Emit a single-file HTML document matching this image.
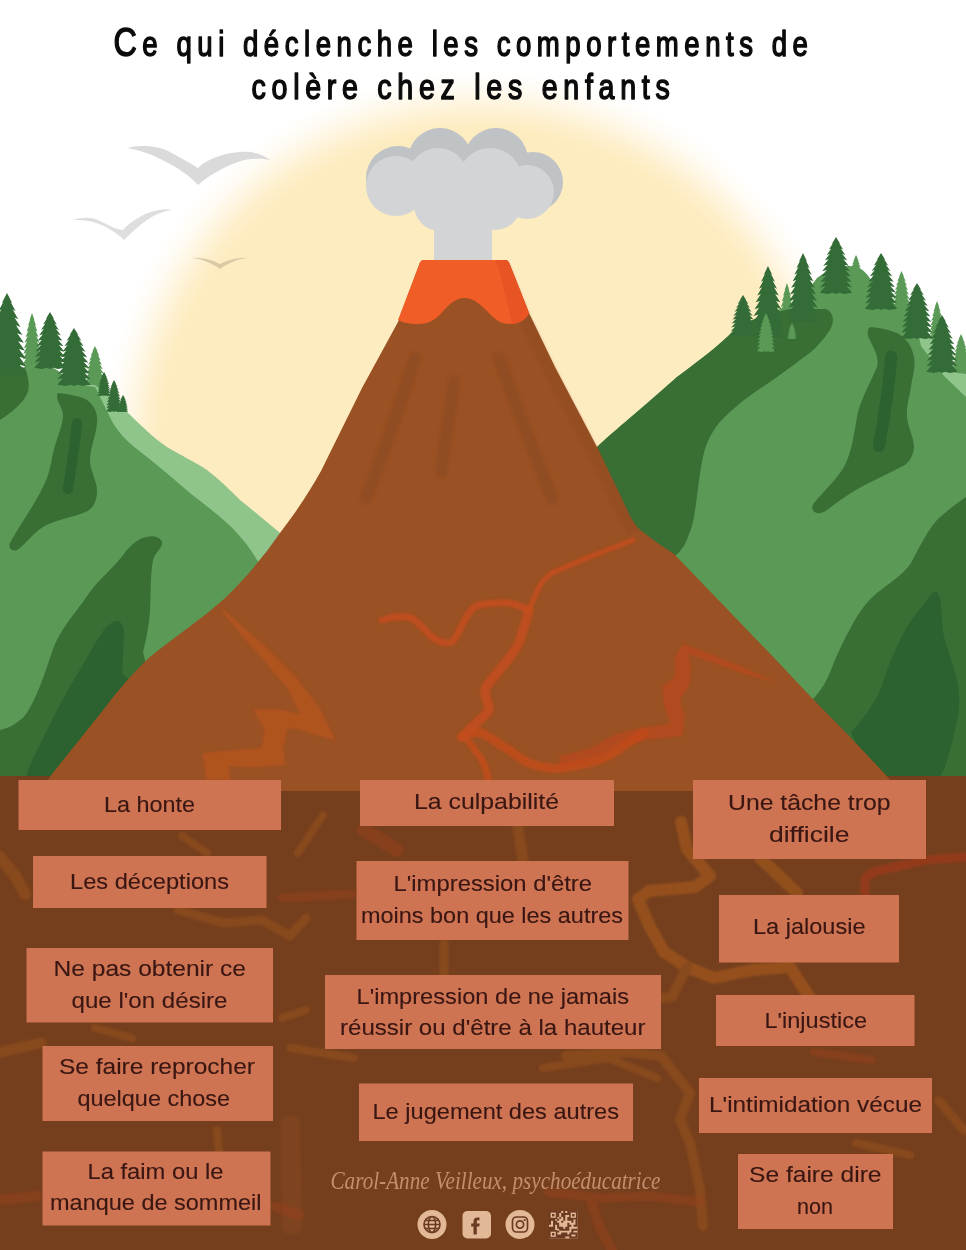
<!DOCTYPE html>
<html lang="fr"><head><meta charset="utf-8"><title>Ce qui déclenche les comportements de colère chez les enfants</title>
<style>
html,body{margin:0;padding:0;background:#fff;}
body{width:966px;height:1250px;position:relative;overflow:hidden;font-family:"Liberation Sans",sans-serif;}
svg{position:absolute;left:0;top:0;display:block;}
</style></head><body>
<svg width="966" height="1250" viewBox="0 0 966 1250">
<defs>
<radialGradient id="sun" cx="481" cy="450" r="380" gradientUnits="userSpaceOnUse"><stop offset="0" stop-color="#FEECC1"/><stop offset="0.845" stop-color="#FEECC1"/><stop offset="0.88" stop-color="#FEECC1" stop-opacity="0.8"/><stop offset="0.915" stop-color="#FEECC1" stop-opacity="0.5"/><stop offset="0.955" stop-color="#FEECC1" stop-opacity="0.2"/><stop offset="1" stop-color="#FEECC1" stop-opacity="0"/></radialGradient>
<path id="pine" d="M20.0 0.0 L25.5 12.5 L23.6 10.5 L28.8 22.0 L25.8 20.0 L31.5 31.5 L27.6 29.5 L33.8 41.0 L29.1 39.0 L35.7 50.5 L30.4 48.5 L37.2 60.0 L31.4 58.0 L38.4 69.5 L32.2 67.5 L39.3 79.0 L32.7 77.0 L39.8 88.5 L33.1 86.5 L40.0 98.0 L30.0 100.0 L24.0 98.0 L20.0 100.0 L16.0 98.0 L10.0 100.0 L0.0 98.0 L6.9 86.5 L0.2 88.5 L7.3 77.0 L0.7 79.0 L7.8 67.5 L1.6 69.5 L8.6 58.0 L2.8 60.0 L9.6 48.5 L4.3 50.5 L10.9 39.0 L6.2 41.0 L12.4 29.5 L8.5 31.5 L14.2 20.0 L11.2 22.0 L16.4 10.5 L14.5 12.5Z"/>
<filter id="b1" x="-10%" y="-10%" width="120%" height="120%"><feGaussianBlur stdDeviation="0.9"/></filter>
<filter id="b2" x="-20%" y="-10%" width="140%" height="120%"><feGaussianBlur stdDeviation="1.6"/></filter>
</defs>
<rect width="966" height="1250" fill="#fff"/>
<circle cx="481" cy="450" r="380" fill="url(#sun)"/>
<path d="M127 148 C142 144 160 146 172 153 C184 160 192 164 198 168 C206 160 222 153 240 152 C254 151 264 155 270 160 C260 158 248 158 238 162 C222 168 208 176 198 185 C190 176 178 168 166 162 C154 155 140 150 127 148Z" fill="#DADADA"/>
<path d="M73 220 C82 217 92 217 100 221 C110 226 118 230 123 230 C130 222 142 214 155 211 C162 209 168 209 172 210 C164 211 156 214 150 218 C138 226 130 234 124 240 C116 232 106 226 96 223 C88 220 80 220 73 220Z" fill="#DEDEDE"/>
<path d="M192 258 C200 257 210 259 220 264 C230 259 240 257 248 258 C238 259 228 263 220 269 C212 263 202 259 192 258Z" fill="#DBC9A6"/>
<use href="#pine" fill="#5A9A56" transform="translate(22.5 313.0) scale(0.476 0.590)"/>
<use href="#pine" fill="#5A9A56" transform="translate(84.9 346.0) scale(0.504 0.460)"/>
<path d="M0 372 L27 370 C35 362 48 362 62 374 L70 383 L95 385 C105 392 115 402 127 412 C140 424 152 437 167 447 C182 456 195 462 207 470 C220 480 230 490 240 500 C255 512 268 523 280 533 L300 560 L300 800 L0 800Z" fill="#8FC58B"/>
<path d="M0 372 L27 370 C35 362 48 362 62 374 L70 384 L95 387 C98 392 105 408 113 423 C122 438 134 447 147 457 C162 469 176 481 190 493 C204 504 216 513 227 523 C240 535 250 548 257 560 L300 600 L300 800 L0 800Z" fill="#5B9956"/>
<path d="M0 360 L25 368 C29 378 30 388 27 394 C22 404 12 412 0 420Z" fill="#396E34"/>
<path d="M58 393 C68 394 80 396 87 400 C95 406 98 414 97 423 C96 436 90 448 90 460 C90 472 98 482 97 493 C96 504 92 510 83 513 C70 518 55 520 43 527 C32 534 24 546 17 550 C12 552 8 548 10 543 C20 524 34 506 43 487 C49 476 51 464 53 453 C56 440 62 428 63 417 C64 408 54 400 58 393Z" fill="#396E34"/>
<path d="M77 423 C75 445 71 468 68 489" stroke="#2C6130" stroke-width="10" stroke-linecap="round" fill="none"/>
<path d="M147 537 C153 535 160 537 162 542 C163 548 155 552 153 560 C150 576 151 594 150 610 C149 626 146 640 143 652 L150 680 L90 790 L0 790 L0 730 C10 728 20 722 26 714 C36 700 44 676 52 652 C58 634 68 622 77 610 C86 598 92 588 100 580 C110 570 120 560 127 550 C134 542 140 538 147 537Z" fill="#396E34"/>
<path d="M116 621 C121 620 125 628 124 636 C123 648 123 660 122 673 L140 690 L80 790 L26 775 C32 760 40 745 47 730 C56 712 66 692 78 673 C88 657 96 640 104 630 C108 625 112 622 116 621Z" fill="#2C6130"/>
<use href="#pine" fill="#346C37" transform="translate(-12.6 293.0) scale(0.980 0.830)"/>
<use href="#pine" fill="#346C37" transform="translate(34.3 312.0) scale(0.784 0.570)"/>
<use href="#pine" fill="#346C37" transform="translate(57.2 328.0) scale(0.840 0.580)"/>
<use href="#pine" fill="#346C37" transform="translate(97.3 372.0) scale(0.336 0.240)"/>
<use href="#pine" fill="#346C37" transform="translate(106.2 380.0) scale(0.392 0.320)"/>
<use href="#pine" fill="#346C37" transform="translate(118.0 395.0) scale(0.252 0.170)"/>
<use href="#pine" fill="#5A9A56" transform="translate(778.0 283.0) scale(0.448 0.590)"/>
<use href="#pine" fill="#5A9A56" transform="translate(849.3 255.0) scale(0.336 0.300)"/>
<use href="#pine" fill="#5A9A56" transform="translate(892.0 271.0) scale(0.476 0.470)"/>
<use href="#pine" fill="#5A9A56" transform="translate(928.6 301.0) scale(0.420 0.490)"/>
<use href="#pine" fill="#5A9A56" transform="translate(951.5 334.0) scale(0.476 0.440)"/>
<path d="M560 800 L597 447 C615 430 640 410 677 377 C700 360 720 345 734 330 L800 300 C808 290 814 282 817 278 C830 268 845 264 857 267 C864 270 868 275 871 280 C886 294 900 308 908 321 C914 331 918 337 921 340 C938 358 952 372 966 387 L966 800Z" fill="#5B9956"/>
<path d="M919 336 L934 340 L944 371 L966 374 L966 397 L944 376 L921 346Z" fill="#8FC58B"/>
<path d="M560 800 L597 447 C615 430 640 410 677 377 C700 360 720 345 734 330 L760 316 L790 309 L826 309 C836 314 834 326 827 334 C820 344 812 352 804 357 C796 364 786 370 777 377 C766 385 754 392 744 400 C732 410 720 420 714 430 C706 442 704 452 702 462 C699 476 698 490 696 504 C694 516 693 526 689 534 C686 544 682 550 675 556 L640 600Z" fill="#396E34"/>
<path d="M871 327 C880 328 890 330 897 333 C906 338 912 346 914 357 C916 368 912 378 911 387 C909 398 906 408 907 417 C908 428 914 438 914 447 C913 458 908 464 901 467 C888 474 874 480 861 487 C850 493 840 500 831 507 C826 511 822 514 817 513 C812 512 811 507 814 503 C824 491 836 480 844 467 C852 452 854 434 857 417 C860 400 870 384 877 367 C880 356 872 346 868 336 C867 331 868 328 871 327Z" fill="#396E34"/>
<path d="M891 357 C889 388 884 418 879 446" stroke="#2C6130" stroke-width="12" stroke-linecap="round" fill="none"/>
<path d="M966 497 C955 505 945 512 937 520 C928 530 920 546 911 563 C902 576 888 584 877 593 C866 602 858 614 851 627 C843 642 836 656 831 670 C827 680 822 690 812 700 L900 790 L966 790Z" fill="#396E34"/>
<path d="M937 592 C940 596 941 601 941 607 C942 618 942 628 944 637 C948 652 954 666 957 680 C960 694 960 708 957 720 C954 738 949 755 944 770 L930 790 L880 790 L851 733 C860 722 870 710 877 697 C883 685 886 672 891 660 C896 648 901 637 907 627 C913 617 921 608 927 600 C930 595 934 590 937 592Z" fill="#2C6130"/>
<use href="#pine" fill="#346C37" transform="translate(730.7 295.0) scale(0.616 0.410)"/>
<use href="#pine" fill="#346C37" transform="translate(752.3 266.0) scale(0.784 0.720)"/>
<use href="#pine" fill="#346C37" transform="translate(787.9 253.0) scale(0.756 0.690)"/>
<use href="#pine" fill="#346C37" transform="translate(819.8 237.0) scale(0.812 0.570)"/>
<use href="#pine" fill="#346C37" transform="translate(864.8 253.0) scale(0.812 0.570)"/>
<use href="#pine" fill="#346C37" transform="translate(901.3 283.0) scale(0.784 0.560)"/>
<use href="#pine" fill="#346C37" transform="translate(926.3 315.0) scale(0.784 0.580)"/>
<use href="#pine" fill="#5A9A56" transform="translate(757.0 313.0) scale(0.448 0.390)"/>
<use href="#pine" fill="#5A9A56" transform="translate(787.5 323.0) scale(0.224 0.160)"/>
<rect x="0" y="776" width="966" height="474" fill="#753F1E"/>
<g fill="none" stroke-linecap="round" stroke-linejoin="round" filter="url(#b1)">
<g stroke="#A35A20" opacity="0.42">
<path d="M681 822 L687 849 L710 876 L695 887 L649 891 L638 899 L649 925 L664 952 L687 967 L714 978 L752 970 L790 967 L797 978 L812 1001" stroke-width="12" stroke="#BF6820"/>
<path d="M687 967 L672 997 L640 1000" stroke-width="10"/>
<path d="M760 858 L775 872 L797 893" stroke-width="12" stroke="#B8641F"/>
<path d="M566 1056 L628 1052 L661 1056 L690 1093 L680 1120 L690 1143 L700 1190 L703 1226" stroke-width="10"/>
<path d="M939 1101 L964 1130" stroke-width="9"/>
<path d="M856 1143 L910 1155" stroke-width="8"/>
<path d="M518 828 L523 860" stroke-width="11"/>
<path d="M444 944 L444 974" stroke-width="9"/>
<path d="M543 1068 L608 1058 L657 1078" stroke-width="8"/>
<path d="M0 857 L16 877 L25 894" stroke-width="12"/>
<path d="M0 1052 L41 1043" stroke-width="11"/>
<path d="M95 1028 L132 1038" stroke-width="8"/>
<path d="M178 910 L224 923 L262 920 L290 936 L306 918" stroke-width="9"/>
<path d="M182 836 L207 853" stroke-width="8"/>
<path d="M323 815 L298 853" stroke-width="8"/>
<path d="M282 1018 L306 1010" stroke-width="8"/>
<path d="M290 1048 L354 1058" stroke-width="8"/>
<path d="M217 1130 L219 1151" stroke-width="8"/>
<path d="M290 1125 L292 1225" stroke-width="20" opacity="0.5"/>
</g>
<g stroke="#9C3F1D" opacity="0.45">
<path d="M865 892 L865 879 L873 872 L926 860 L966 857" stroke-width="9" stroke="#B8381C"/>
<path d="M814 1052 L872 1060" stroke-width="8"/>
<path d="M282 898 L352 894" stroke-width="9"/>
<path d="M0 1200 L37 1196" stroke-width="10"/>
<path d="M364 830 L397 850" stroke-width="14"/>
<path d="M275 1207 L300 1215" stroke-width="10"/>
<path d="M548 1192 L600 1198 L650 1196 L700 1202" stroke-width="9"/>
<path d="M592 1204 L600 1228 L612 1250" stroke-width="10"/>
</g>
</g>
<g fill="#BFC3C5">
<circle cx="398" cy="178" r="32"/><circle cx="440" cy="160" r="32"/><circle cx="496" cy="160" r="32"/><circle cx="533" cy="182" r="30"/>
</g>
<g fill="#D3D4D5">
<circle cx="396" cy="186" r="30"/><circle cx="438" cy="178" r="30"/><circle cx="490" cy="180" r="32"/><circle cx="527" cy="192" r="27"/><circle cx="440" cy="205" r="26"/><circle cx="495" cy="204" r="26"/>
<rect x="434" y="200" width="58" height="64"/>
</g>
<path d="M424 260 L505 260 C508 260 509 262 510 265 L529 313 L555 367 L597 447 L622 499 C628 512 632 522 639 529 C650 538 662 546 674 554 L729 611 L778 662 L811 697 L851 738 L884 773 L900 791 L40 791 L52 774 L104 709 C118 690 134 672 150 657 C176 636 200 620 223 600 C246 578 264 556 280 533 C296 512 308 494 321 471 L362 388 L398 322 L419 265 C420 262 421 260 424 260Z" fill="#9A5123"/>
<g stroke="#8B4A22" stroke-width="12" stroke-linecap="round" fill="none" opacity="0.6" filter="url(#b2)">
<path d="M415 358 C400 405 384 452 366 498"/>
<path d="M454 381 C450 412 445 443 441 472"/>
<path d="M499 358 C516 405 534 452 552 498"/>
</g>
<path d="M510 265 L529 313 L555 367 L597 447 L622 499 C628 512 632 522 639 529 L628 534 C620 520 614 508 608 496 L584 448 L542 368 L516 314 L500 268Z" fill="#8B4A22" opacity="0.35" filter="url(#b1)"/>
<path d="M424 260 L505 260 C508 260 509 262 510 265 L529 313 C526 320 518 324 510 324 C498 324 492 316 486 310 C478 302 472 298 464 298 C456 298 450 304 444 310 C438 318 430 324 418 324 C408 324 402 322 398 320 L419 265 C420 262 421 260 424 260Z" fill="#F15D27"/>
<path d="M496 260 L505 260 C508 260 509 262 510 265 L529 313 C526 320 518 324 512 324 C508 305 502 280 496 260Z" fill="#E95424"/>
<g stroke="#CC4E1C" stroke-width="7" stroke-linecap="round" stroke-linejoin="round" fill="none" filter="url(#b1)" opacity="0.85">
<path d="M382 620 C394 616 404 616 412 618 C420 624 426 632 432 637 C438 642 446 644 452 642 C458 636 460 628 465 620 C469 612 473 606 479 605 C490 603 500 602 509 603 C516 604 524 608 529 610" opacity="0.85"/>
<path d="M529 610 C532 602 536 594 539 587 C543 580 548 576 552 573 C565 567 578 562 589 557 C605 551 620 545 633 540" stroke-width="5" opacity="0.9"/>
<path d="M529 610 C526 622 522 633 519 643 C514 652 508 660 502 667 C496 675 488 682 485 690 C484 698 490 704 489 710 C484 718 474 724 469 730 C466 733 464 735 462 737" stroke-width="9.5" opacity="0.85"/>
<path d="M462 737 C468 733 476 732 482 733 C492 738 500 745 509 750 C516 755 522 760 529 763 C540 767 552 769 562 768 C575 766 588 764 599 760 C608 756 616 752 622 747 C630 742 638 737 644 733" stroke-width="9" opacity="0.8"/>
<path d="M466 738 C472 746 478 754 482 760 C486 768 488 776 489 786" opacity="0.8"/>
</g>
<path d="M222.2 609.8 L262.0 644.6 L296.8 679.4 L319.1 709.2 L334.0 739.0 L299.3 729.1 L286.8 726.6 L281.9 748.9 L284.3 763.9 L254.5 766.3 L227.2 765.1 L229.7 778.8 L207.3 778.8 L203.6 753.9 L229.7 751.4 L262.0 748.9 L265.7 729.1 L254.5 710.4 L279.4 710.4 L301.7 715.4 L289.3 689.3 L264.5 659.5 L242.1 634.7Z" fill="#C0561E" opacity="0.6" filter="url(#b1)" stroke="#C4561E" stroke-width="1.5" stroke-linejoin="round"/>
<path d="M560.0 766.5 L589.8 760.2 L619.6 745.3 L647.0 739.1 L681.7 735.4 L684.2 716.8 L679.3 699.4 L689.2 684.5 L690.4 664.6 L686.7 653.4 L714.0 662.1 L743.9 673.3 L771.2 680.7 L743.9 668.3 L714.0 655.9 L683.0 644.7 L675.5 657.1 L675.5 677.0 L663.1 687.0 L664.3 704.3 L670.6 724.2 L644.5 728.0 L617.1 734.2 L589.8 749.1 L560.0 756.5Z" fill="#C2471F" opacity="0.6" filter="url(#b1)" stroke="#C5481F" stroke-width="1" stroke-linejoin="round"/>
<rect x="18.5" y="780.0" width="262.5" height="50.0" fill="#CE7453"/>
<rect x="33.0" y="856.0" width="233.5" height="52.0" fill="#CE7453"/>
<rect x="26.5" y="948.0" width="246.5" height="74.5" fill="#CE7453"/>
<rect x="42.5" y="1046.0" width="230.5" height="75.0" fill="#CE7453"/>
<rect x="42.5" y="1151.5" width="228.0" height="74.0" fill="#CE7453"/>
<rect x="360.0" y="780.0" width="254.0" height="46.0" fill="#CE7453"/>
<rect x="356.5" y="861.0" width="272.0" height="79.0" fill="#CE7453"/>
<rect x="325.0" y="975.0" width="336.0" height="74.0" fill="#CE7453"/>
<rect x="359.0" y="1083.5" width="274.0" height="57.5" fill="#CE7453"/>
<rect x="693.0" y="780.0" width="233.0" height="79.0" fill="#CE7453"/>
<rect x="719.0" y="895.0" width="180.0" height="67.5" fill="#CE7453"/>
<rect x="716.0" y="995.0" width="198.5" height="51.0" fill="#CE7453"/>
<rect x="699.0" y="1078.0" width="233.0" height="55.0" fill="#CE7453"/>
<rect x="738.0" y="1154.0" width="155.0" height="75.0" fill="#CE7453"/>
<g font-family="Liberation Sans, sans-serif" font-size="22.3" fill="#3A1612" stroke="#3A1612" stroke-width="0.12">
<text x="104.0" y="811.5" textLength="91.0" lengthAdjust="spacingAndGlyphs">La honte</text>
<text x="70.0" y="889.0" textLength="159.0" lengthAdjust="spacingAndGlyphs">Les déceptions</text>
<text x="53.5" y="976.0" textLength="192.5" lengthAdjust="spacingAndGlyphs">Ne pas obtenir ce</text>
<text x="71.5" y="1007.5" textLength="156.0" lengthAdjust="spacingAndGlyphs">que l&#39;on désire</text>
<text x="59.0" y="1074.0" textLength="196.0" lengthAdjust="spacingAndGlyphs">Se faire reprocher</text>
<text x="77.5" y="1106.0" textLength="152.5" lengthAdjust="spacingAndGlyphs">quelque chose</text>
<text x="87.5" y="1179.0" textLength="136.0" lengthAdjust="spacingAndGlyphs">La faim ou le</text>
<text x="50.0" y="1210.0" textLength="211.5" lengthAdjust="spacingAndGlyphs">manque de sommeil</text>
<text x="414.0" y="809.0" textLength="145.0" lengthAdjust="spacingAndGlyphs">La culpabilité</text>
<text x="393.5" y="891.0" textLength="198.5" lengthAdjust="spacingAndGlyphs">L&#39;impression d&#39;être</text>
<text x="361.0" y="922.5" textLength="262.0" lengthAdjust="spacingAndGlyphs">moins bon que les autres</text>
<text x="356.5" y="1003.5" textLength="272.5" lengthAdjust="spacingAndGlyphs">L&#39;impression de ne jamais</text>
<text x="340.0" y="1035.0" textLength="305.5" lengthAdjust="spacingAndGlyphs">réussir ou d&#39;être à la hauteur</text>
<text x="372.5" y="1119.0" textLength="246.5" lengthAdjust="spacingAndGlyphs">Le jugement des autres</text>
<text x="728.0" y="810.0" textLength="162.5" lengthAdjust="spacingAndGlyphs">Une tâche trop</text>
<text x="769.0" y="841.5" textLength="80.5" lengthAdjust="spacingAndGlyphs">difficile</text>
<text x="753.0" y="933.5" textLength="112.5" lengthAdjust="spacingAndGlyphs">La jalousie</text>
<text x="764.5" y="1027.5" textLength="102.5" lengthAdjust="spacingAndGlyphs">L&#39;injustice</text>
<text x="709.0" y="1111.5" textLength="213.0" lengthAdjust="spacingAndGlyphs">L&#39;intimidation vécue</text>
<text x="749.0" y="1181.5" textLength="132.5" lengthAdjust="spacingAndGlyphs">Se faire dire</text>
<text x="797.0" y="1213.5" textLength="36.0" lengthAdjust="spacingAndGlyphs">non</text>
</g>
<g font-family="Liberation Sans, sans-serif" font-size="35" fill="#0b0b0b" stroke="#0b0b0b" stroke-width="1.5" stroke-linejoin="round">
<text x="113.5" y="55.5" textLength="700" lengthAdjust="spacingAndGlyphs" letter-spacing="7"><tspan font-size="41">C</tspan>e qui déclenche les comportements de</text>
<text x="251.5" y="99" textLength="424" lengthAdjust="spacingAndGlyphs" letter-spacing="7">colère chez les enfants</text>
</g>
<text x="330.5" y="1189" textLength="330" lengthAdjust="spacingAndGlyphs" font-family="Liberation Serif, serif" font-style="italic" font-size="25" fill="#C48E6C">Carol-Anne Veilleux, psychoéducatrice</text>
<circle cx="432" cy="1224.5" r="14.5" fill="#E2B896"/>
<g stroke="#6A3A22" stroke-width="1.6" fill="none"><circle cx="432" cy="1224.5" r="8"/><ellipse cx="432" cy="1224.5" rx="3.6" ry="8"/><path d="M424 1224.5H440M425.5 1220.5H438.5M425.5 1228.5H438.5"/></g>
<rect x="462.5" y="1211" width="28.5" height="27.5" rx="5" fill="#E2B896"/>
<path d="M479.5 1217.5h-2.2c-2.4 0-3.8 1.5-3.8 3.9v2.1h-2.3v3.1h2.3v7.9h3.3v-7.9h2.5l.4-3.1h-2.9v-1.8c0-.9.3-1.4 1.4-1.4h1.3z" fill="#6A3A22"/>
<circle cx="520" cy="1224.5" r="14.5" fill="#E2B896"/>
<g stroke="#6A3A22" stroke-width="1.7" fill="none"><rect x="512.5" y="1217" width="15" height="15" rx="4"/><circle cx="520" cy="1224.5" r="3.6"/></g><circle cx="524.6" cy="1220" r="1.1" fill="#6A3A22"/>
<rect x="549" y="1211" width="28.5" height="27.5" fill="#E2B896"/>
<path d="M557.14 1211.00h2.04v1.96h-2.04zM559.18 1211.00h2.04v1.96h-2.04zM563.25 1211.00h2.04v1.96h-2.04zM567.32 1211.00h2.04v1.96h-2.04zM557.14 1212.96h2.04v1.96h-2.04zM561.21 1212.96h2.04v1.96h-2.04zM563.25 1212.96h2.04v1.96h-2.04zM565.29 1212.96h2.04v1.96h-2.04zM567.32 1212.96h2.04v1.96h-2.04zM557.14 1214.93h2.04v1.96h-2.04zM561.21 1214.93h2.04v1.96h-2.04zM563.25 1214.93h2.04v1.96h-2.04zM559.18 1216.89h2.04v1.96h-2.04zM563.25 1216.89h2.04v1.96h-2.04zM567.32 1216.89h2.04v1.96h-2.04zM549.00 1218.86h2.04v1.96h-2.04zM551.04 1218.86h2.04v1.96h-2.04zM553.07 1218.86h2.04v1.96h-2.04zM557.14 1218.86h2.04v1.96h-2.04zM563.25 1218.86h2.04v1.96h-2.04zM567.32 1218.86h2.04v1.96h-2.04zM569.36 1218.86h2.04v1.96h-2.04zM571.39 1218.86h2.04v1.96h-2.04zM575.46 1218.86h2.04v1.96h-2.04zM549.00 1220.82h2.04v1.96h-2.04zM553.07 1220.82h2.04v1.96h-2.04zM555.11 1220.82h2.04v1.96h-2.04zM561.21 1220.82h2.04v1.96h-2.04zM571.39 1220.82h2.04v1.96h-2.04zM575.46 1220.82h2.04v1.96h-2.04zM549.00 1222.79h2.04v1.96h-2.04zM553.07 1222.79h2.04v1.96h-2.04zM555.11 1222.79h2.04v1.96h-2.04zM557.14 1222.79h2.04v1.96h-2.04zM567.32 1222.79h2.04v1.96h-2.04zM575.46 1222.79h2.04v1.96h-2.04zM553.07 1224.75h2.04v1.96h-2.04zM557.14 1224.75h2.04v1.96h-2.04zM567.32 1224.75h2.04v1.96h-2.04zM569.36 1224.75h2.04v1.96h-2.04zM573.43 1224.75h2.04v1.96h-2.04zM575.46 1224.75h2.04v1.96h-2.04zM549.00 1226.71h2.04v1.96h-2.04zM551.04 1226.71h2.04v1.96h-2.04zM553.07 1226.71h2.04v1.96h-2.04zM557.14 1226.71h2.04v1.96h-2.04zM559.18 1226.71h2.04v1.96h-2.04zM561.21 1226.71h2.04v1.96h-2.04zM565.29 1226.71h2.04v1.96h-2.04zM567.32 1226.71h2.04v1.96h-2.04zM549.00 1228.68h2.04v1.96h-2.04zM551.04 1228.68h2.04v1.96h-2.04zM553.07 1228.68h2.04v1.96h-2.04zM559.18 1228.68h2.04v1.96h-2.04zM561.21 1228.68h2.04v1.96h-2.04zM563.25 1228.68h2.04v1.96h-2.04zM565.29 1228.68h2.04v1.96h-2.04zM567.32 1228.68h2.04v1.96h-2.04zM571.39 1228.68h2.04v1.96h-2.04zM573.43 1228.68h2.04v1.96h-2.04zM575.46 1228.68h2.04v1.96h-2.04zM557.14 1230.64h2.04v1.96h-2.04zM571.39 1230.64h2.04v1.96h-2.04zM561.21 1232.61h2.04v1.96h-2.04zM563.25 1232.61h2.04v1.96h-2.04zM565.29 1232.61h2.04v1.96h-2.04zM569.36 1232.61h2.04v1.96h-2.04zM571.39 1232.61h2.04v1.96h-2.04zM573.43 1232.61h2.04v1.96h-2.04zM575.46 1232.61h2.04v1.96h-2.04zM557.14 1234.57h2.04v1.96h-2.04zM559.18 1234.57h2.04v1.96h-2.04zM561.21 1234.57h2.04v1.96h-2.04zM563.25 1234.57h2.04v1.96h-2.04zM565.29 1234.57h2.04v1.96h-2.04zM567.32 1234.57h2.04v1.96h-2.04zM569.36 1234.57h2.04v1.96h-2.04zM575.46 1234.57h2.04v1.96h-2.04zM557.14 1236.54h2.04v1.96h-2.04zM559.18 1236.54h2.04v1.96h-2.04zM561.21 1236.54h2.04v1.96h-2.04zM563.25 1236.54h2.04v1.96h-2.04zM569.36 1236.54h2.04v1.96h-2.04zM571.39 1236.54h2.04v1.96h-2.04zM573.43 1236.54h2.04v1.96h-2.04zM575.46 1236.54h2.04v1.96h-2.04z" fill="#6A3A22"/>
<rect x="549.8" y="1211.8" width="6.8" height="6.8" fill="none" stroke="#6A3A22" stroke-width="1.6"/><rect x="552.0" y="1214.0" width="2.4" height="2.4" fill="#6A3A22"/>
<rect x="569.9" y="1211.8" width="6.8" height="6.8" fill="none" stroke="#6A3A22" stroke-width="1.6"/><rect x="572.1" y="1214.0" width="2.4" height="2.4" fill="#6A3A22"/>
<rect x="549.8" y="1230.9" width="6.8" height="6.8" fill="none" stroke="#6A3A22" stroke-width="1.6"/><rect x="552.0" y="1233.1" width="2.4" height="2.4" fill="#6A3A22"/>
</svg>
</body></html>
